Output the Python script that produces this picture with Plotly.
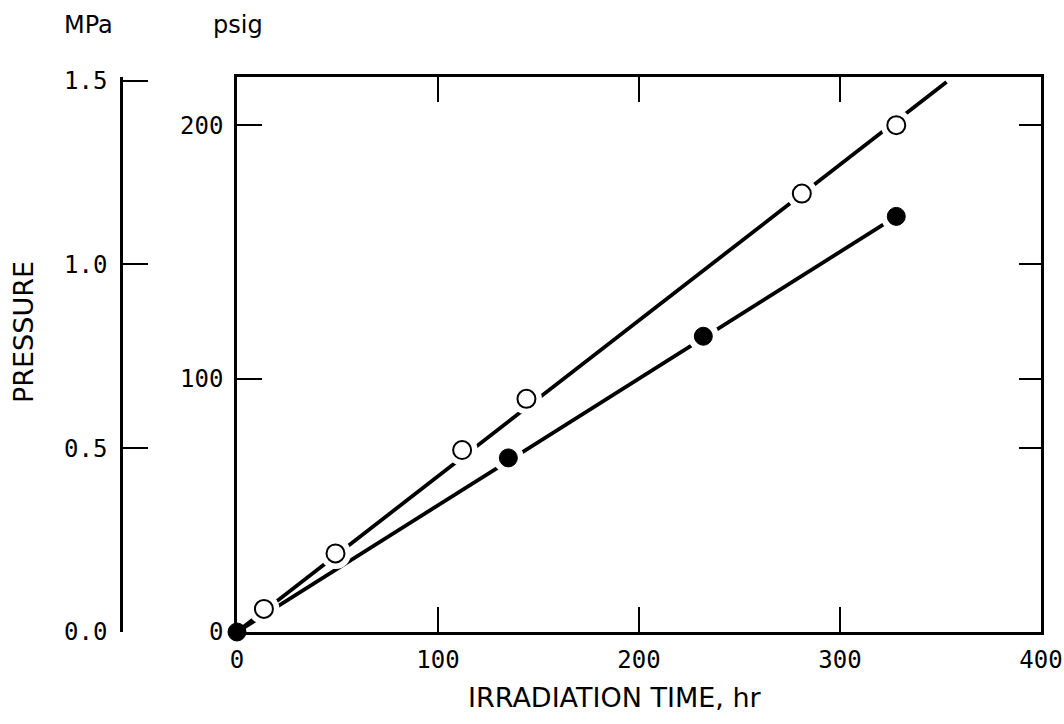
import plotly.graph_objects as go

# ---- data ----
open_time = [13.4, 49, 112, 144, 281, 328]          # hr
open_psig = [9.1, 31, 71.8, 92, 173, 200]          # psig
filled_time = [0, 135, 232, 328]
filled_psig = [0, 68.7, 116.7, 164]
fit_open_time = [0, 353]
fit_open_psig = [0, 217]
fit_filled_time = [0, 328]
fit_filled_psig = [0, 164]

x_ticks = [0, 100, 200, 300, 400]
psig_ticks = [0, 100, 200]
mpa_ticks = [0.0, 0.5, 1.0, 1.5]
mpa_labels = ["0.0", "0.5", "1.0", "1.5"]
PSI_PER_MPA = 145.038
right_ticks_psig = [200, 1.0 * PSI_PER_MPA, 100, 0.5 * PSI_PER_MPA]

PSIG_MAX = 219
W, H = 1064, 724
ML, MR, MT, MB = 0, 23, 77, 92
PW = W - ML - MR
PH = H - MT - MB

def px_x(p):
    return (p - ML) / PW

def px_y(p):
    return (H - MB - p) / PH

tick_font = dict(family="DejaVu Sans Mono", size=24, color="black")
title_font = dict(family="DejaVu Sans", size=27, color="black")
unit_font = dict(family="DejaVu Sans", size=24, color="black")

fig = go.Figure()

# lines
fig.add_trace(go.Scatter(x=fit_open_time, y=fit_open_psig, mode="lines",
                         line=dict(color="black", width=3.8), cliponaxis=False,
                         showlegend=False, hoverinfo="skip"))
fig.add_trace(go.Scatter(x=fit_filled_time, y=fit_filled_psig, mode="lines",
                         line=dict(color="black", width=3.8), cliponaxis=False,
                         showlegend=False, hoverinfo="skip"))
# white halos to break the lines around markers
fig.add_trace(go.Scatter(x=open_time + filled_time[1:], y=open_psig + filled_psig[1:], mode="markers",
                         marker=dict(color="white", size=31, line=dict(width=0)),
                         cliponaxis=False, showlegend=False, hoverinfo="skip"))
# markers
fig.add_trace(go.Scatter(x=open_time, y=open_psig, mode="markers",
                         marker=dict(symbol="circle", color="white", size=18,
                                     line=dict(color="black", width=2)),
                         cliponaxis=False, showlegend=False))
fig.add_trace(go.Scatter(x=filled_time, y=filled_psig, mode="markers",
                         marker=dict(symbol="circle", color="black", size=18,
                                     line=dict(color="black", width=1)),
                         cliponaxis=False, showlegend=False))
# invisible traces to activate extra axes
fig.add_trace(go.Scatter(x=[0], y=[0], yaxis="y2", mode="markers",
                         marker=dict(opacity=0), showlegend=False, hoverinfo="skip"))
fig.add_trace(go.Scatter(x=[0], y=[0], yaxis="y3", mode="markers",
                         marker=dict(opacity=0), showlegend=False, hoverinfo="skip"))

fig.update_layout(
    template="none",
    width=W, height=H,
    margin=dict(l=ML, r=MR, t=MT, b=MB),
    paper_bgcolor="white", plot_bgcolor="white",
    xaxis=dict(domain=[px_x(237), 1], range=[0, 400], tickvals=x_ticks,
               ticks="inside", ticklen=25, tickwidth=2, tickcolor="black",
               showline=True, linewidth=2.5, linecolor="black", mirror="ticks",
               showgrid=False, zeroline=False, tickfont=tick_font,
               ticklabelstandoff=4),
    yaxis=dict(range=[0, PSIG_MAX], tickvals=psig_ticks,
               ticks="inside", ticklen=25, tickwidth=2, tickcolor="black",
               showline=True, linewidth=2.5, linecolor="black", mirror=True,
               showgrid=False, zeroline=False, tickfont=tick_font,
               ticklabelstandoff=6),
    yaxis2=dict(range=[0, PSIG_MAX / PSI_PER_MPA], tickvals=mpa_ticks, ticktext=mpa_labels,
                overlaying="y", anchor="free", position=px_x(121), side="left",
                ticks="inside", ticklen=25, tickwidth=2, tickcolor="black",
                showline=True, linewidth=2.5, linecolor="black",
                showgrid=False, zeroline=False, tickfont=tick_font,
                ticklabelstandoff=8),
    yaxis3=dict(range=[0, PSIG_MAX], tickvals=right_ticks_psig,
                overlaying="y", anchor="x", side="right",
                ticks="inside", ticklen=22, tickwidth=2, tickcolor="black",
                showticklabels=False, showline=False,
                showgrid=False, zeroline=False),
    annotations=[
        dict(text="MPa", x=px_x(88), y=px_y(25), xref="paper", yref="paper",
             xanchor="center", yanchor="middle", showarrow=False, font=unit_font),
        dict(text="psig", x=px_x(238), y=px_y(25), xref="paper", yref="paper",
             xanchor="center", yanchor="middle", showarrow=False, font=unit_font),
        dict(text="PRESSURE", x=px_x(23), y=px_y(332), xref="paper", yref="paper",
             xanchor="center", yanchor="middle", showarrow=False, textangle=-90,
             font=title_font),
        dict(text="IRRADIATION TIME, hr", x=px_x(615), y=px_y(697), xref="paper", yref="paper",
             xanchor="center", yanchor="middle", showarrow=False, font=title_font),
    ],
)

fig.write_html("out.html", config={"displayModeBar": False},
               post_script="document.body.style.margin='0';")
